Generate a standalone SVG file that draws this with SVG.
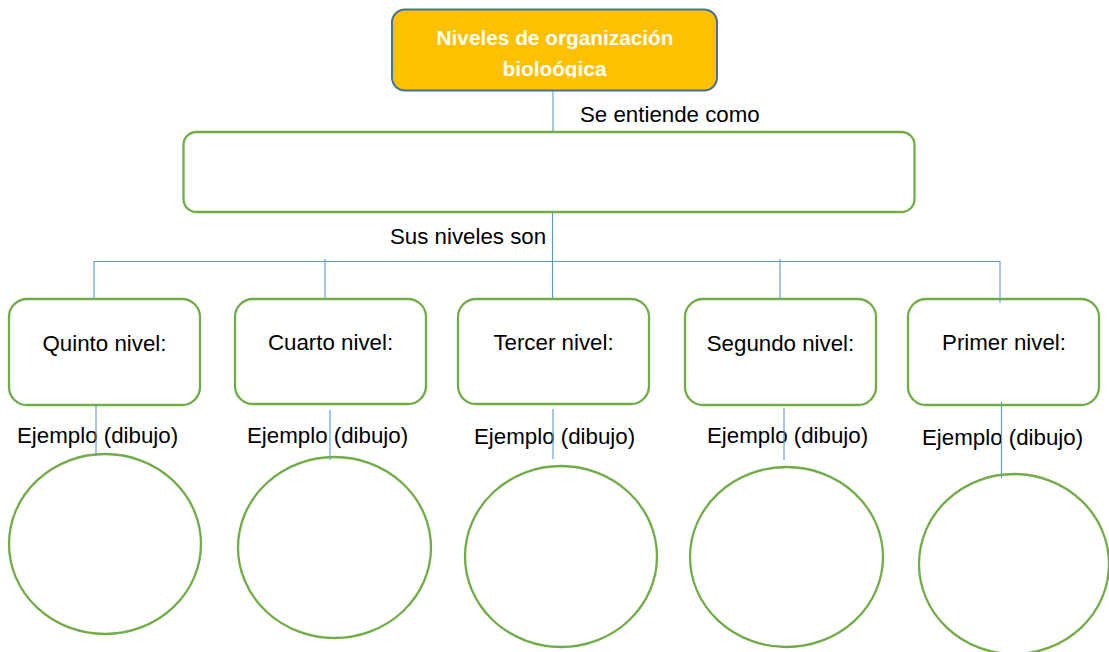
<svg xmlns="http://www.w3.org/2000/svg" width="1109" height="652" viewBox="0 0 1109 652">
<style>
  .box { fill: #FFFFFF; stroke: #70AD47; stroke-width: 2.3; }
  .circ { fill: none; stroke: #70AD47; stroke-width: 2.3; }
  .lbl { font-family: "Liberation Sans", Arial, sans-serif; font-size: 22.3px; fill: #000000; }
  .mid { text-anchor: middle; }
  .title { font-family: "Liberation Sans", Arial, sans-serif; font-size: 20.8px; font-weight: bold; fill: #FFFFFF; text-anchor: middle; }
  .conn line { stroke: #5B9BD5; stroke-width: 1.1; }
</style>
<defs>
  <clipPath id="titleClip"><rect x="392" y="9" width="325" height="68.5"/></clipPath>
</defs>
<rect width="1109" height="652" fill="#FFFFFF"/>

<g id="title">
  <rect x="392" y="9.5" width="325" height="81" rx="13" ry="13" fill="#FFC000" stroke="#41719C" stroke-width="2"/>
  <g clip-path="url(#titleClip)">
    <text class="title" x="555" y="45">Niveles de organización</text>
    <text class="title" x="554.5" y="76">bioloógica</text>
  </g>
</g>

<g id="definition">
  <rect class="box" x="183.5" y="132" width="731" height="80" rx="13" ry="13"/>
</g>

<g id="label-se-entiende">
  <text class="lbl" x="580" y="122">Se entiende como</text>
</g>
<g id="label-sus-niveles">
  <text class="lbl" x="390" y="244">Sus niveles son</text>
</g>

<g id="quinto">
  <rect class="box" x="9" y="299" width="191" height="106" rx="18" ry="18"/>
  <text class="lbl mid" x="104.5" y="351">Quinto nivel:</text>
  <text class="lbl" x="17" y="442.5">Ejemplo (dibujo)</text>
  <ellipse class="circ" cx="105" cy="544" rx="96" ry="90"/>
</g>
<g id="cuarto">
  <rect class="box" x="235" y="299" width="191" height="105" rx="18" ry="18"/>
  <text class="lbl mid" x="330.5" y="350">Cuarto nivel:</text>
  <text class="lbl" x="247" y="442.5">Ejemplo (dibujo)</text>
  <ellipse class="circ" cx="334.5" cy="547.5" rx="96.5" ry="90.5"/>
</g>
<g id="tercer">
  <rect class="box" x="458" y="299" width="191" height="105" rx="18" ry="18"/>
  <text class="lbl mid" x="553.5" y="350">Tercer nivel:</text>
  <text class="lbl" x="474" y="444">Ejemplo (dibujo)</text>
  <ellipse class="circ" cx="561" cy="556.5" rx="96" ry="90.5"/>
</g>
<g id="segundo">
  <rect class="box" x="685" y="299" width="191" height="106" rx="18" ry="18"/>
  <text class="lbl mid" x="780.5" y="351">Segundo nivel:</text>
  <text class="lbl" x="707" y="443">Ejemplo (dibujo)</text>
  <ellipse class="circ" cx="786.5" cy="557" rx="96.5" ry="90"/>
</g>
<g id="primer">
  <rect class="box" x="908" y="299" width="191" height="106" rx="18" ry="18"/>
  <text class="lbl mid" x="1004" y="350">Primer nivel:</text>
  <text class="lbl" x="922" y="445">Ejemplo (dibujo)</text>
  <ellipse class="circ" cx="1014" cy="564" rx="95" ry="90"/>
</g>

<g id="connectors" class="conn">
  <line x1="553" y1="91" x2="553" y2="131"/>
  <line x1="552.5" y1="212" x2="552.5" y2="298"/>
  <line x1="94" y1="261.5" x2="1000" y2="261.5"/>
  <line x1="94" y1="261" x2="94" y2="299"/>
  <line x1="325" y1="259" x2="325" y2="299"/>
  <line x1="780" y1="259" x2="780" y2="299"/>
  <line x1="1000" y1="261" x2="1000" y2="303"/>
  <line x1="96" y1="406" x2="96" y2="456"/>
  <line x1="330" y1="410" x2="330" y2="460"/>
  <line x1="553" y1="409" x2="553" y2="459"/>
  <line x1="784" y1="408" x2="784" y2="460"/>
  <line x1="1001.5" y1="402" x2="1001.5" y2="478"/>
</g>
</svg>
